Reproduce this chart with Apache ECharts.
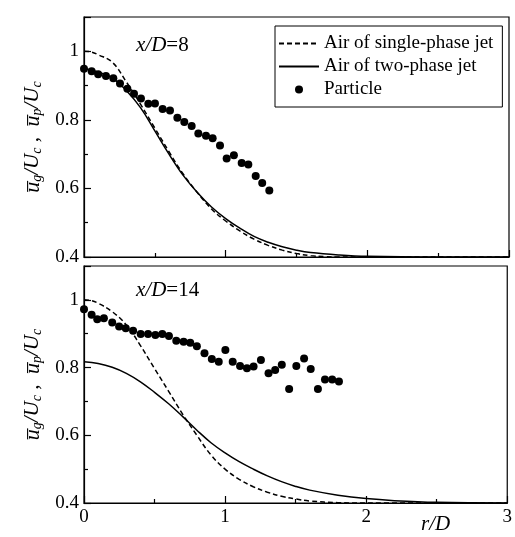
<!DOCTYPE html>
<html>
<head>
<meta charset="utf-8">
<script src="https://cdn.jsdelivr.net/npm/echarts@6/dist/echarts.min.js"></script>
<style>html,body{margin:0;padding:0;background:#fff;}#c{width:515px;height:537px;}</style>
</head>
<body>
<div id="c"></div>
<script>
// ---- data ----
const xTicks = [0, 1, 2, 3];
const yTicks = [0.4, 0.6, 0.8, 1.0];

// Top panel x/D=8
const topSingleR = [0, 0.05, 0.1, 0.2, 0.3, 0.4, 0.5, 0.6, 0.7, 0.8, 0.9, 1.0, 1.1, 1.2, 1.3, 1.4, 1.5, 1.6, 1.7, 1.8, 2.0, 2.5, 3.0];
const topSingleV = [1.0, 0.998, 0.99, 0.968, 0.91, 0.845, 0.776, 0.707, 0.642, 0.588, 0.54, 0.505, 0.476, 0.452, 0.434, 0.42, 0.41, 0.404, 0.401, 0.4, 0.4, 0.4, 0.4];
const topTwoR = [0, 0.1, 0.2, 0.3, 0.4, 0.5, 0.6, 0.7, 0.8, 0.9, 1.0, 1.1, 1.2, 1.3, 1.4, 1.5, 1.6, 1.8, 2.0, 2.5, 3.0];
const topTwoV = [0.95, 0.94, 0.922, 0.885, 0.835, 0.768, 0.7, 0.638, 0.588, 0.546, 0.512, 0.484, 0.46, 0.443, 0.43, 0.42, 0.413, 0.406, 0.402, 0.4, 0.4];
const topPartR = [0, 0.054, 0.10, 0.155, 0.207, 0.254, 0.306, 0.353, 0.402, 0.454, 0.501, 0.555, 0.607, 0.659, 0.708, 0.760, 0.807, 0.861, 0.908, 0.960, 1.007, 1.058, 1.113, 1.160, 1.212, 1.258, 1.308];
const topPartV = [0.949, 0.942, 0.933, 0.928, 0.921, 0.906, 0.891, 0.876, 0.862, 0.847, 0.848, 0.832, 0.827, 0.806, 0.794, 0.782, 0.760, 0.754, 0.746, 0.725, 0.687, 0.697, 0.674, 0.670, 0.636, 0.616, 0.594];

// Bottom panel x/D=14
const botSingleR = [0, 0.05, 0.1, 0.2, 0.3, 0.4, 0.5, 0.6, 0.7, 0.8, 0.9, 1.0, 1.1, 1.2, 1.3, 1.4, 1.5, 1.6, 1.8, 2.0, 3.0];
const botSingleV = [1.0, 0.998, 0.99, 0.965, 0.926, 0.865, 0.797, 0.73, 0.662, 0.6, 0.542, 0.5, 0.47, 0.448, 0.432, 0.42, 0.412, 0.406, 0.401, 0.4, 0.4];
const botTwoR = [0, 0.1, 0.2, 0.3, 0.4, 0.5, 0.6, 0.7, 0.8, 0.9, 1.0, 1.1, 1.2, 1.3, 1.4, 1.5, 1.6, 1.8, 2.0, 2.2, 2.5, 3.0];
const botTwoV = [0.817, 0.812, 0.801, 0.783, 0.758, 0.727, 0.693, 0.655, 0.615, 0.578, 0.548, 0.522, 0.5, 0.48, 0.463, 0.449, 0.438, 0.423, 0.413, 0.407, 0.402, 0.4];
const botPartR = [0, 0.054, 0.094, 0.141, 0.2, 0.249, 0.296, 0.348, 0.402, 0.454, 0.506, 0.555, 0.602, 0.654, 0.706, 0.753, 0.8, 0.854, 0.906, 0.955, 1.002, 1.054, 1.106, 1.155, 1.202, 1.254, 1.308, 1.355, 1.402, 1.454, 1.505, 1.56, 1.607, 1.658, 1.708, 1.759, 1.807];
const botPartV = [0.972, 0.956, 0.943, 0.946, 0.933, 0.921, 0.916, 0.909, 0.899, 0.899, 0.896, 0.899, 0.893, 0.879, 0.876, 0.873, 0.863, 0.842, 0.825, 0.817, 0.852, 0.817, 0.805, 0.798, 0.803, 0.822, 0.783, 0.793, 0.808, 0.737, 0.805, 0.827, 0.796, 0.737, 0.765, 0.765, 0.759];

const seriesNames = ['Air of single-phase jet', 'Air of two-phase jet', 'Particle'];
// ---- end data ----

const zip = (a, b) => a.map((v, i) => [v, b[i]]);
const FONT = 'Liberation Serif';

const chart = echarts.init(document.getElementById('c'), null, {renderer: 'canvas'});

function xAx(idx, showLabels) {
  return {
    type: 'value', gridIndex: idx, min: 0, max: 3, interval: 1,
    axisLine: {show: true, onZero: false, lineStyle: {color: '#000', width: 1.2}},
    axisTick: {show: true, inside: true, length: 7, lineStyle: {color: '#000', width: 1.2}},
    minorTick: {show: true, splitNumber: 2, length: 4, lineStyle: {color: '#000', width: 1.2}},
    splitLine: {show: false},
    axisLabel: {show: showLabels, color: '#000', fontFamily: FONT, fontSize: 19, margin: 5,
      formatter: v => xTicks.includes(v) ? String(v) : ''}
  };
}
const yName = '{u|u\u0305}{s|g}{n|/U}{s|c}{n| ,  }{u|u\u0305}{s|p}{n|/U}{s|c}';
function yAx(idx) {
  return {
    type: 'value', gridIndex: idx, min: 0.4, max: 1.1, interval: 0.2,
    axisLine: {show: true, onZero: false, lineStyle: {color: '#000', width: 1.2}},
    axisTick: {show: true, inside: true, length: 7, lineStyle: {color: '#000', width: 1.2}},
    minorTick: {show: true, splitNumber: 2, length: 4, lineStyle: {color: '#000', width: 1.2}},
    splitLine: {show: false},
    axisLabel: {color: '#000', fontFamily: FONT, fontSize: 19, margin: 5, showMaxLabel: false,
      formatter: v => { const t = yTicks.find(k => Math.abs(k - v) < 1e-6); return t === undefined ? '' : String(t); }},
    name: yName, nameLocation: 'middle', nameRotate: 90, nameGap: 38,
    nameTextStyle: {
      color: '#000', fontFamily: FONT, fontSize: 21,
      rich: {
        u: {fontFamily: FONT, fontSize: 22, fontStyle: 'italic', color: '#000'},
        s: {fontFamily: FONT, fontSize: 14, fontStyle: 'italic', color: '#000', verticalAlign: 'bottom', padding: [9, 0, 0, 0]},
        n: {fontFamily: FONT, fontSize: 21, fontStyle: 'italic', color: '#000'}
      }
    }
  };
}

function lineSeries(name, idx, r, v, dashed) {
  return {
    name, type: 'line', xAxisIndex: idx, yAxisIndex: idx, data: zip(r, v),
    smooth: 0.4, showSymbol: false, symbol: 'none',
    lineStyle: {color: '#000', width: 1.5, type: dashed ? [5, 3] : 'solid'},
    itemStyle: {color: '#000'}, z: 2
  };
}
function scatterSeries(idx, r, v) {
  return {
    name: seriesNames[2], type: 'scatter', xAxisIndex: idx, yAxisIndex: idx, data: zip(r, v),
    symbol: 'circle', symbolSize: 8, itemStyle: {color: '#000', opacity: 1}, z: 3
  };
}

const titleRich = {
  i: {fontFamily: FONT, fontSize: 21, fontStyle: 'italic', fontWeight: 'normal', color: '#000'},
  n: {fontFamily: FONT, fontSize: 21, fontWeight: 'normal', color: '#000'}
};

chart.setOption({
  animation: false,
  backgroundColor: '#fff',
  textStyle: {fontFamily: FONT},
  grid: [
    {left: 84, right: 6, top: 17, height: 240, show: true, borderColor: '#000', borderWidth: 1.2, backgroundColor: 'transparent'},
    {left: 84, right: 6, top: 266, height: 237, show: true, borderColor: '#000', borderWidth: 1.2, backgroundColor: 'transparent'}
  ],
  title: [
    {text: '{i|x/D}{n|=8}', left: 131, top: 30, textStyle: {fontWeight: 'normal', rich: titleRich}},
    {text: '{i|x/D}{n|=14}', left: 131, top: 275, textStyle: {fontWeight: 'normal', rich: titleRich}}
  ],
  legend: {
    data: [
      {name: seriesNames[0], itemStyle: {opacity: 0}},
      {name: seriesNames[1], itemStyle: {opacity: 0}},
      {name: seriesNames[2]}
    ],
    orient: 'vertical', left: 275, top: 26,
    padding: [8, 9, 8, 3],
    itemWidth: 40, itemHeight: 8, itemGap: 4,
    borderColor: '#000', borderWidth: 1, backgroundColor: '#fff',
    textStyle: {fontFamily: FONT, fontSize: 19, color: '#000', padding: [0, 0, 0, 0]},
    selectedMode: false
  },
  xAxis: [xAx(0, false), xAx(1, true)],
  yAxis: [yAx(0), yAx(1)],
  graphic: [
    {type: 'text', left: 421, top: 514, style: {text: 'r/D', font: 'italic 21px "Liberation Serif"', fill: '#000'}}
  ],
  series: [
    lineSeries(seriesNames[0], 0, topSingleR, topSingleV, true),
    lineSeries(seriesNames[1], 0, topTwoR, topTwoV, false),
    scatterSeries(0, topPartR, topPartV),
    lineSeries(seriesNames[0], 1, botSingleR, botSingleV, true),
    lineSeries(seriesNames[1], 1, botTwoR, botTwoV, false),
    scatterSeries(1, botPartR, botPartV)
  ]
});
</script>
</body>
</html>
